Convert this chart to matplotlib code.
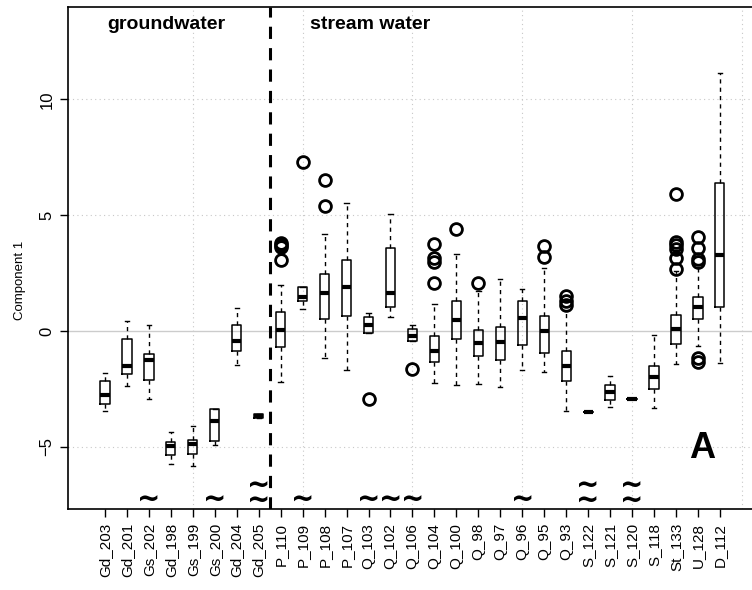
import matplotlib
matplotlib.use("Agg")
import matplotlib.pyplot as plt

plt.rcParams["font.family"] = ["Liberation Sans", "DejaVu Sans"]

# sites, left to right
sites = ["Gd_203", "Gd_201", "Gs_202", "Gd_198", "Gs_199", "Gs_200", "Gd_204", "Gd_205",
         "P_110", "P_109", "P_108", "P_107", "Q_103", "Q_102", "Q_106", "Q_104",
         "Q_100", "Q_98", "Q_97", "Q_96", "Q_95", "Q_93", "S_122", "S_121",
         "S_120", "S_118", "St_133", "U_128", "D_112"]

# box statistics
whis_lo = [-3.48, -2.36, -2.93, -5.75, -5.82, -4.91, -1.47, -3.78,
           -2.21, 0.94, -1.15, -1.68, -0.09, 0.60, -0.42, -2.24,
           -2.34, -2.28, -2.41, -1.71, -1.77, -3.45, -3.52, -3.30,
           -2.96, -3.33, -1.41, -0.65, -1.37]
q1 = [-3.15, -1.87, -2.14, -5.34, -5.30, -4.74, -0.85, -3.76,
      -0.69, 1.28, 0.52, 0.66, -0.09, 1.02, -0.42, -1.34,
      -0.33, -1.09, -1.24, -0.63, -0.96, -2.16, -3.52, -2.98,
      -2.96, -2.50, -0.57, 0.51, 1.05]
med = [-2.76, -1.51, -1.25, -4.99, -4.88, -3.87, -0.42, -3.66,
       0.03, 1.45, 1.65, 1.91, 0.25, 1.62, -0.22, -0.88,
       0.46, -0.53, -0.49, 0.57, 0.00, -1.51, -3.52, -2.66,
       -2.96, -1.99, 0.07, 1.02, 3.28]
q3 = [-2.18, -0.36, -0.99, -4.80, -4.70, -3.36, 0.26, -3.57,
      0.81, 1.90, 2.44, 3.07, 0.60, 3.56, 0.10, -0.20,
      1.28, 0.03, 0.17, 1.31, 0.65, -0.89, -3.52, -2.33,
      -2.96, -1.51, 0.70, 1.45, 6.37]
whis_hi = [-1.80, 0.43, 0.26, -4.38, -4.12, -3.36, 1.00, -3.57,
           1.97, 1.90, 4.18, 5.50, 0.76, 5.06, 0.26, 1.16,
           3.32, 1.72, 2.23, 1.80, 2.73, 0.90, -3.52, -1.96,
           -2.96, -0.17, 2.59, 2.88, 11.13]
outliers = [[], [], [], [], [], [], [], [],
            [3.05, 3.62, 3.72, 3.80], [7.30], [5.39, 6.51], [], [-2.93], [], [-1.64], [2.06, 2.99, 3.15, 3.74],
            [4.41], [2.07], [], [], [3.18, 3.66], [1.12, 1.29, 1.51], [], [],
            [], [], [2.66, 3.13, 3.55, 3.70, 3.82, 5.90], [-1.34, -1.16, 2.98, 3.10, 3.58, 4.04], []]

# "~" marks along the bottom (1 = single, 2 = double)
tilde_marks = {"Gs_202": 1, "Gs_200": 1, "Gd_205": 2, "P_109": 1, "Q_103": 1, "Q_102": 1,
               "Q_106": 1, "Q_96": 1, "S_122": 2, "S_120": 2}

n_ground = 8

fig = plt.figure(figsize=(7.52, 5.90), dpi=100)
ax = fig.add_axes([68.3 / 752, 1 - 509 / 590, (760 - 68.3) / 752, (509 - 7.3) / 590])

positions = list(range(1, len(sites) + 1))
stats = []
for i, name in enumerate(sites):
    stats.append({"label": name, "whislo": whis_lo[i], "q1": q1[i], "med": med[i],
                  "q3": q3[i], "whishi": whis_hi[i], "fliers": outliers[i]})

# grid first so it sits under the boxes
for yv in [-5, 5, 10]:
    ax.axhline(yv, color="#c8c8c8", lw=0.8, ls=(0, (1, 3)), zorder=0)
for xv in [5, 10, 15, 20, 25, 30]:
    ax.axvline(xv, color="#c8c8c8", lw=0.8, ls=(0, (1, 3)), zorder=0)
ax.axhline(0, color="#cccccc", lw=1.0, zorder=0)

ax.bxp(stats, positions=positions, widths=0.42, showfliers=True,
       boxprops=dict(color="black", lw=1.1),
       medianprops=dict(color="black", lw=3.0, solid_capstyle="butt"),
       whiskerprops=dict(color="black", lw=1.0, ls=(0, (3, 3))),
       capprops=dict(color="black", lw=1.0),
       capwidths=0.2,
       flierprops=dict(marker="o", markerfacecolor="none", markeredgecolor="black",
                       markersize=8.5, markeredgewidth=2.0),
       zorder=3)

ax.axvline(n_ground + 0.5, color="black", lw=2.2, ls=(0, (4, 3)), zorder=4)

ax.set_xlim(1 - 36.7 / 21.96, 1 + (760 - 105) / 21.96)
ax.set_ylim(-7.69, 13.97)

ax.set_xticks(positions)
ax.set_xticklabels(sites, rotation=90, fontsize=11)
ax.set_yticks([-5, 0, 5, 10])
ax.set_yticklabels(["\u22125", "0", "5", "10"], rotation=90, va="center", fontsize=12)
ax.tick_params(direction="out", length=6, width=1, color="black", pad=4)
ax.set_ylabel("Component 1", fontsize=9.5)
ax.yaxis.set_label_coords(-0.061, (509 - 280) / 501.7)

for side in ["top", "left", "bottom"]:
    ax.spines[side].set_linewidth(1.2)
ax.spines["right"].set_visible(False)

ax.text(3.78, 13.6, "groundwater", fontsize=14, fontweight="bold", ha="center", va="top")
ax.text(13.07, 13.6, "stream water", fontsize=14, fontweight="bold", ha="center", va="top")
ax.text(28.2, -5.06, "A", fontsize=26, fontweight="bold", ha="center", va="center")

for name, count in tilde_marks.items():
    x = sites.index(name) + 1
    if count == 2:
        ax.text(x, -7.01, "~\n~", fontsize=20, fontweight="bold", family="DejaVu Sans",
                ha="center", va="center", linespacing=0.42)
    else:
        ax.text(x, -7.30, "~", fontsize=20, fontweight="bold", family="DejaVu Sans",
                ha="center", va="center")

fig.savefig("out.png", dpi=100)
